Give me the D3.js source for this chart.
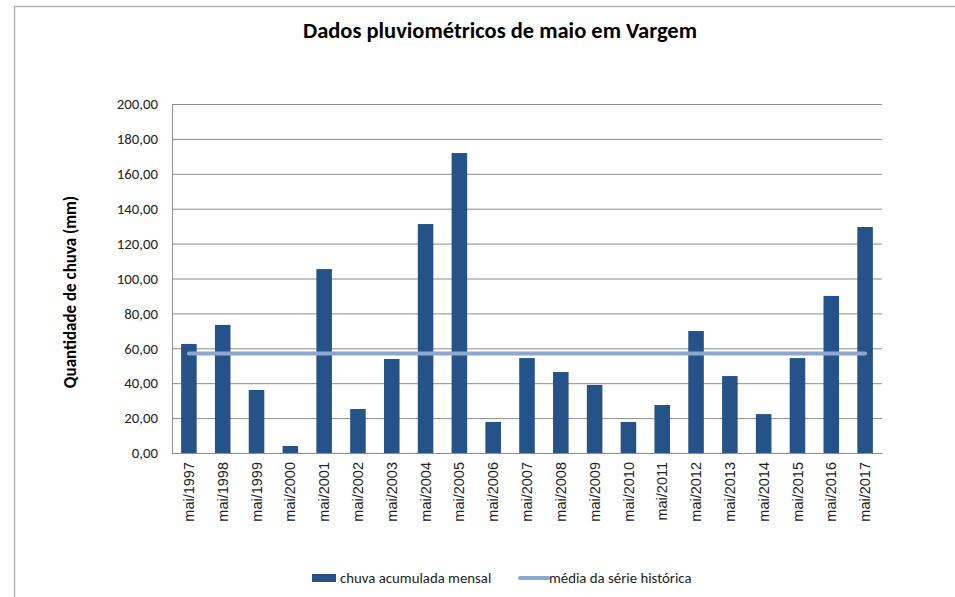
<!DOCTYPE html>
<html>
<head>
<meta charset="utf-8">
<script src="https://cdn.jsdelivr.net/npm/d3@7"></script>
<style>
  body { margin: 0; background: #fff; }
  svg { display: block; }
</style>
</head>
<body>
<div id="chart"></div>
<script>
// Data
const anos = ["mai/1997", "mai/1998", "mai/1999", "mai/2000", "mai/2001", "mai/2002", "mai/2003",
    "mai/2004", "mai/2005", "mai/2006", "mai/2007", "mai/2008", "mai/2009", "mai/2010",
    "mai/2011", "mai/2012", "mai/2013", "mai/2014", "mai/2015", "mai/2016", "mai/2017"];
const chuvaMensal = [62.5, 73.4, 36.1, 4.0, 105.4, 25.2, 53.9, 131.2, 171.9, 17.8, 54.4,
    46.4, 39.0, 17.8, 27.5, 69.9, 44.1, 22.3, 54.4, 90.0, 129.5];
const mediaHistorica = [57.0, 57.0, 57.0, 57.0, 57.0, 57.0, 57.0, 57.0, 57.0, 57.0, 57.0,
    57.0, 57.0, 57.0, 57.0, 57.0, 57.0, 57.0, 57.0, 57.0, 57.0];
const yTicks = [0, 20, 40, 60, 80, 100, 120, 140, 160, 180, 200];

const width = 955, height = 597;
const margin = { top: 104, right: 73, bottom: 144, left: 172 };
const innerW = width - margin.left - margin.right;
const innerH = height - margin.top - margin.bottom;

const calibri = "Carlito, Calibri, Lato, sans-serif";
const arial = "'Liberation Sans', Arial, sans-serif";

const svg = d3.select("#chart").append("svg")
    .attr("width", width)
    .attr("height", height);

// Chart frame (only top and left edges visible)
svg.append("path")
    .attr("d", "M14.5,597 L14.5,6.5 L955,6.5")
    .attr("fill", "none")
    .attr("stroke", "#b4b4b4")
    .attr("stroke-width", 1.5);

// Title
svg.append("text")
    .attr("x", 500)
    .attr("y", 38)
    .attr("text-anchor", "middle")
    .style("font-family", calibri)
    .style("font-weight", "bold")
    .style("font-size", "22.5px")
    .style("fill", "#000")
    .text("Dados pluviométricos de maio em Vargem");

const g = svg.append("g")
    .attr("transform", `translate(${margin.left},${margin.top})`);

const x = d3.scaleBand()
    .domain(anos)
    .range([0, innerW])
    .paddingInner(0.54)
    .paddingOuter(0.27);

const y = d3.scaleLinear()
    .domain([0, 200])
    .range([innerH, 0]);

// Horizontal grid
g.append("g")
    .attr("class", "grid")
    .call(d3.axisLeft(y).tickValues(yTicks).tickSize(-innerW).tickFormat(""))
    .call(s => s.select(".domain").remove())
    .selectAll("line")
    .attr("stroke", "#8c8c8c")
    .attr("stroke-width", 1);

// Y axis
const fmt = d => d3.format(".2f")(d).replace(".", ",");
const yAxis = g.append("g")
    .call(d3.axisLeft(y).tickValues(yTicks).tickSize(0).tickPadding(14).tickFormat(fmt));
yAxis.select(".domain").attr("stroke", "#8c8c8c");
yAxis.selectAll("text")
    .style("font-family", calibri)
    .style("font-size", "14.8px")
    .style("fill", "#222");

// Y axis title
svg.append("text")
    .attr("transform", "translate(76,292) rotate(-90)")
    .attr("text-anchor", "middle")
    .style("font-family", calibri)
    .style("font-weight", "bold")
    .style("font-size", "17px")
    .style("fill", "#000")
    .text("Quantidade de chuva (mm)");

// Bars
g.selectAll(".bar")
    .data(chuvaMensal)
    .join("rect")
    .attr("class", "bar")
    .attr("x", (d, i) => x(anos[i]))
    .attr("y", d => y(d))
    .attr("width", x.bandwidth())
    .attr("height", d => innerH - y(d))
    .attr("fill", "#255288");

// X axis
const xAxis = g.append("g")
    .attr("transform", `translate(0,${innerH})`)
    .call(d3.axisBottom(x).tickSize(0).tickPadding(0));
xAxis.select(".domain").attr("stroke", "#8c8c8c");
xAxis.selectAll("text")
    .attr("transform", "rotate(-90)")
    .attr("text-anchor", "end")
    .attr("x", -9)
    .attr("y", 0)
    .attr("dy", "0.35em")
    .style("font-family", arial)
    .style("font-size", "14.5px")
    .style("fill", "#222");

// Media line
const line = d3.line()
    .x((d, i) => x(anos[i]) + x.bandwidth() / 2)
    .y(d => y(d));

g.append("path")
    .datum(mediaHistorica)
    .attr("fill", "none")
    .attr("stroke", "#8da7cf")
    .attr("stroke-width", 4)
    .attr("stroke-linecap", "round")
    .attr("d", line);

// Legend
const legend = svg.append("g").attr("transform", "translate(312,578)");
legend.append("rect")
    .attr("x", 0).attr("y", -4)
    .attr("width", 24).attr("height", 8)
    .attr("fill", "#255288");
legend.append("text")
    .attr("x", 28).attr("y", 0).attr("dy", "0.35em")
    .style("font-family", calibri)
    .style("font-size", "14.8px")
    .style("fill", "#222")
    .text("chuva acumulada mensal");
legend.append("line")
    .attr("x1", 208).attr("x2", 236)
    .attr("y1", 0).attr("y2", 0)
    .attr("stroke", "#8da7cf")
    .attr("stroke-width", 4)
    .attr("stroke-linecap", "round");
legend.append("text")
    .attr("x", 237).attr("y", 0).attr("dy", "0.35em")
    .style("font-family", calibri)
    .style("font-size", "14.8px")
    .style("fill", "#222")
    .text("média da série histórica");
</script>
</body>
</html>
